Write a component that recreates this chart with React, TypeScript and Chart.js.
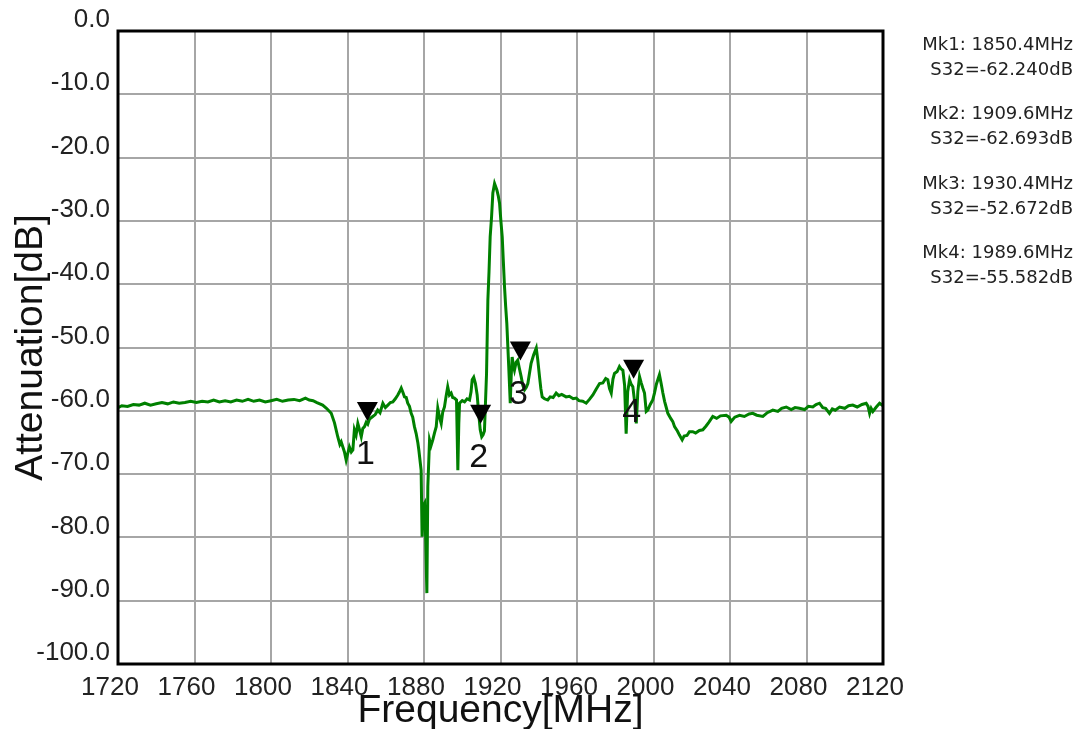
import React, { useEffect, useRef } from "react";
import { Chart, registerables } from "chart.js";

Chart.register(...registerables);

const freqMHz: number[] = [
  1720, 1722, 1725, 1728, 1731, 1734, 1737, 1740, 1743, 1746, 1749, 1752, 1755, 1758, 1761, 1764, 1767, 1770,
  1773, 1776, 1779, 1782, 1785, 1788, 1791, 1794, 1797, 1800, 1803, 1806, 1809, 1812, 1815, 1818, 1820, 1822,
  1824, 1827, 1829, 1831.5, 1833.2, 1834.9, 1836, 1836.7, 1838.4, 1839.3, 1840, 1841, 1842, 1842.8, 1843.6,
  1844.5, 1845.4, 1846.3, 1847.2, 1848, 1848.9, 1849.8, 1850.6, 1851.5, 1853.2, 1854.5, 1855.8, 1857, 1858.5,
  1859.8, 1861.1, 1862.4, 1863.7, 1865, 1866.3, 1867.2, 1868.1, 1869, 1869.8, 1870.7, 1871.5, 1872.4, 1873.3,
  1874.1, 1875, 1875.9, 1876.8, 1877.3, 1878.5, 1879, 1879.6, 1880.3, 1880.9, 1881.5, 1882, 1882.9, 1883.7,
  1884.6, 1885.5, 1886.4, 1887.2, 1888.1, 1889, 1889.8, 1890.7, 1891.5, 1892.4, 1893.3, 1894.2, 1895, 1895.9,
  1897, 1897.7, 1898.2, 1898.6, 1900, 1901.2, 1902.5, 1903.8, 1904.6, 1905.2, 1906, 1906.9, 1907.8, 1908.6,
  1909.4, 1910.2, 1910.9, 1911.6, 1912.2, 1912.7, 1913.4, 1914, 1914.6, 1915.3, 1916, 1916.9, 1917.5, 1918.1,
  1918.8, 1919.5, 1920.2, 1920.9, 1921.5, 1922.1, 1922.7, 1923.3, 1924.3, 1925.1, 1925.6, 1926.1, 1926.8,
  1927.3, 1928.2, 1929, 1929.8, 1930.8, 1931.7, 1932.6, 1933.5, 1934.3, 1935.2, 1936, 1937.3, 1938.7, 1939.5,
  1940.4, 1941.1, 1941.8, 1943, 1944.7, 1946, 1947.5, 1949.1, 1950.5, 1952, 1954.3, 1956, 1958, 1959.6, 1961,
  1963, 1964.8, 1966.5, 1968.3, 1970, 1971.8, 1973.5, 1975, 1976.1, 1977, 1977.9, 1978.8, 1979.6, 1981, 1982.2,
  1983.1, 1984, 1984.9, 1985.7, 1986.5, 1987.5, 1988.3, 1989.2, 1990.1, 1991, 1991.8, 1992.7, 1993.5, 1994.4,
  1995.3, 1996.2, 1997, 1998.3, 1999.6, 2000.5, 2001.5, 2003.1, 2004, 2004.9, 2005.8, 2006.6, 2007.5, 2009,
  2010.1, 2011, 2012.5, 2013.5, 2015, 2016, 2017.5, 2018.8, 2020.5, 2022, 2024, 2025.8, 2027.5, 2029, 2031,
  2033, 2035, 2038, 2039.5, 2040.6, 2042.5, 2045, 2047.5, 2050, 2051.9, 2054, 2057.2, 2059.5, 2062.4, 2065,
  2067, 2069.4, 2072, 2074, 2076.3, 2079, 2081, 2083.3, 2085, 2086.8, 2088.5, 2090, 2092, 2093.5, 2095, 2097.3,
  2100, 2102, 2104.2, 2106.5, 2109, 2111.2, 2112.2, 2113, 2113.8, 2114.7, 2116.5, 2118.2, 2120,
];

const attenDb: number[] = [
  -59.5, -59.2, -59.3, -59.0, -59.1, -58.8, -59.1, -58.9, -58.7, -58.9, -58.6, -58.8, -58.7, -58.5, -58.7, -58.5,
  -58.6, -58.3, -58.6, -58.4, -58.6, -58.3, -58.5, -58.2, -58.5, -58.3, -58.6, -58.4, -58.2, -58.5, -58.3, -58.2,
  -58.4, -58.0, -58.3, -58.4, -58.7, -59.1, -59.6, -60.4, -61.9, -64.1, -65.3, -64.9, -66.5, -67.8, -66.9, -65.7,
  -66.5, -66.2, -63.0, -63.8, -62.0, -63.0, -64.1, -62.8, -62.5, -61.8, -62.1, -61.3, -60.9, -60.6, -59.9, -60.3,
  -58.8, -59.5, -59.1, -58.7, -58.6, -58.1, -57.5, -57.0, -56.4, -57.1, -57.8, -57.9, -58.8, -59.3, -60.4, -61.0,
  -62.5, -63.6, -65.1, -66.2, -69.4, -79.9, -75.0, -74.6, -80.5, -88.8, -72.0, -64.6, -65.5, -64.6, -63.5, -62.5,
  -59.6, -61.0, -62.0, -60.2, -59.4, -57.8, -56.2, -57.5, -57.2, -57.9, -58.0, -58.3, -69.4, -62.0, -58.8, -58.4,
  -58.6, -58.1, -58.3, -57.0, -55.1, -54.7, -55.7, -57.5, -60.4, -63.0, -64.1, -63.8, -63.2, -58.3, -54.1, -42.5,
  -38.0, -32.5, -29.5, -25.6, -24.1, -24.6, -25.1, -26.0, -27.2, -30.0, -32.5, -36.5, -40.4, -43.5, -46.2, -53.0,
  -58.8, -54.5, -51.5, -53.0, -53.6, -52.3, -52.0, -53.2, -54.6, -56.0, -56.7, -56.3, -55.7, -54.0, -52.5, -51.2,
  -50.1, -52.0, -54.6, -56.5, -57.8, -58.1, -58.3, -57.8, -57.9, -57.2, -57.6, -57.4, -57.8, -57.7, -58.1, -58.0,
  -58.4, -58.5, -58.8, -58.2, -57.5, -56.6, -55.7, -55.6, -54.9, -55.1, -56.5, -57.2, -55.0, -54.1, -53.8, -53.0,
  -53.4, -53.6, -56.0, -63.6, -57.0, -55.1, -55.8, -56.2, -58.5, -62.0, -57.0, -54.6, -55.5, -56.4, -57.2, -60.1,
  -59.9, -59.0, -58.3, -57.2, -55.8, -54.3, -55.7, -57.2, -58.5, -59.4, -60.4, -61.2, -61.7, -62.5, -63.2, -63.8,
  -64.6, -64.0, -63.9, -63.3, -63.3, -63.5, -63.1, -63.0, -62.4, -61.8, -60.9, -61.2, -60.8, -60.7, -61.0, -61.7,
  -61.0, -60.7, -60.9, -60.5, -60.4, -60.7, -60.9, -60.3, -59.9, -60.1, -59.6, -59.4, -59.8, -59.5, -59.6, -59.8,
  -59.3, -59.4, -59.0, -58.8, -59.5, -59.6, -60.4, -59.7, -59.9, -59.4, -59.6, -59.2, -59.1, -59.4, -59.0, -58.8,
  -59.3, -60.4, -59.6, -60.1, -59.4, -58.8, -59.2,
];

const markerFreq: number[] = [1850.4, 1909.6, 1930.4, 1989.6];
const markerValue: number[] = [-62.24, -62.693, -52.672, -55.582];
const markerNames: string[] = ["1", "2", "3", "4"];

const xTitle = "Frequency[MHz]";
const yTitle = "Attenuation[dB]";

const W = 1079;
const H = 729;

export default function App() {
  const ref = useRef<HTMLCanvasElement | null>(null);

  useEffect(() => {
    const canvas = ref.current;
    if (!canvas) return;

    const overlay = {
      id: "overlay",
      beforeDraw(chart: any) {
        const ctx = chart.ctx;
        ctx.save();
        ctx.fillStyle = "#ffffff";
        ctx.fillRect(0, 0, chart.width, chart.height);
        ctx.restore();
      },
      afterDraw(chart: any) {
        const ctx = chart.ctx;
        const xs = chart.scales.x;
        const ys = chart.scales.y;
        const a = chart.chartArea;
        ctx.save();
        // frame
        ctx.strokeStyle = "#000000";
        ctx.lineWidth = 3;
        ctx.strokeRect(a.left, a.top, a.right - a.left, a.bottom - a.top);

        // markers
        markerFreq.forEach((f, i) => {
          const px = xs.getPixelForValue(f);
          const py = ys.getPixelForValue(markerValue[i]);
          const tip = py - 4;
          ctx.fillStyle = "#000000";
          ctx.beginPath();
          ctx.moveTo(px - 10.5, tip - 19);
          ctx.lineTo(px + 10.5, tip - 19);
          ctx.lineTo(px, tip);
          ctx.closePath();
          ctx.fill();
          ctx.font = "34px 'Liberation Sans', Arial, sans-serif";
          ctx.textAlign = "center";
          ctx.textBaseline = "middle";
          ctx.fillStyle = "#111111";
          ctx.fillText(markerNames[i], px - 2, py + 30);
        });

        // marker readout
        ctx.font = "18px 'DejaVu Sans', sans-serif";
        ctx.textAlign = "right";
        ctx.textBaseline = "middle";
        ctx.fillStyle = "#222222";
        markerFreq.forEach((f, i) => {
          const y0 = 45 + i * 69.5;
          ctx.fillText(`Mk${i + 1}: ${f.toFixed(1)}MHz`, 1073, y0);
          ctx.fillText(`S32=${markerValue[i].toFixed(3)}dB`, 1073, y0 + 25);
        });

        // axis titles
        ctx.fillStyle = "#111111";
        ctx.font = "39px 'Liberation Sans', Arial, sans-serif";
        ctx.textAlign = "center";
        ctx.textBaseline = "middle";
        ctx.fillText(xTitle, (a.left + a.right) / 2, 711);
        ctx.translate(31, (a.top + a.bottom) / 2);
        ctx.rotate(-Math.PI / 2);
        ctx.fillText(yTitle, 0, 0);
        ctx.restore();
      },
    };

    const chart = new Chart(canvas, {
      type: "line",
      data: {
        datasets: [
          {
            label: "S32",
            data: freqMHz.map((f, i) => ({ x: f, y: attenDb[i] })),
            borderColor: "#008000",
            borderWidth: 3,
            pointRadius: 0,
            tension: 0,
            fill: false,
          },
        ],
      },
      options: {
        responsive: false,
        animation: false,
        devicePixelRatio: 1,
        layout: { padding: { left: 0, top: 31, right: W - 883, bottom: 0 } },
        plugins: { legend: { display: false }, tooltip: { enabled: false }, title: { display: false } },
        scales: {
          x: {
            type: "linear",
            min: 1720,
            max: 2120,
            afterFit: (s: any) => {
              s.height = H - 664;
            },
            grid: { color: "#a6a6a6", lineWidth: 2, drawTicks: false },
            border: { display: false },
            ticks: {
              stepSize: 40,
              padding: 8,
              labelOffset: -8,
              color: "#222222",
              font: { family: "'Liberation Sans', Arial, sans-serif", size: 26 },
              callback: (v: any) => String(v),
            },
          },
          y: {
            type: "linear",
            min: -100,
            max: 0,
            afterFit: (s: any) => {
              s.width = 118;
            },
            grid: { color: "#a6a6a6", lineWidth: 2, drawTicks: false },
            border: { display: false },
            ticks: {
              stepSize: 10,
              padding: 8,
              labelOffset: -11,
              color: "#222222",
              font: { family: "'Liberation Sans', Arial, sans-serif", size: 26 },
              callback: (v: any) => Number(v).toFixed(1),
            },
          },
        },
      },
      plugins: [overlay],
    });

    return () => {
      chart.destroy();
    };
  }, []);

  return (
    <div style={{ position: "fixed", left: 0, top: 0, width: W, height: H, background: "#fff" }}>
      <canvas ref={ref} width={W} height={H} style={{ width: W, height: H, display: "block" }} />
    </div>
  );
}
